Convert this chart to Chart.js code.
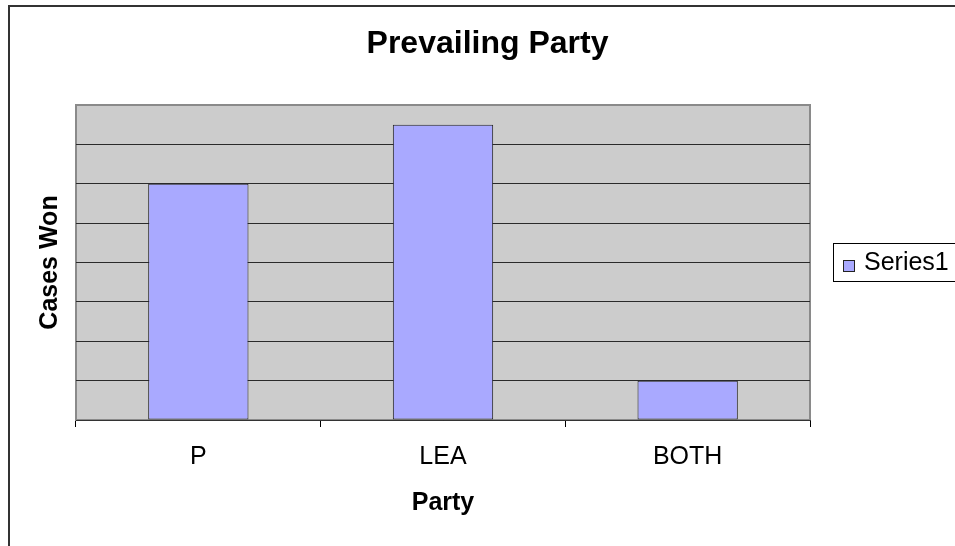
<!DOCTYPE html>
<html>
<head>
<meta charset="utf-8">
<title>Prevailing Party</title>
<script src="https://cdn.jsdelivr.net/npm/chart.js"></script>
<style>
    html, body { margin: 0; padding: 0; background: #fff; overflow: hidden; }
    #wrap { position: relative; width: 955px; height: 546px; }
</style>
</head>
<body>
<div id="wrap"><canvas id="partyChart"></canvas></div>
<script>
// Cases won by each party
const parties = ['P', 'LEA', 'BOTH'];
const casesWon = [6, 7.5, 1];
const seriesName = 'Series1';
const yMax = 8;

const FONT = '"Liberation Sans", Arial, sans-serif';
const barFill = '#a9a9ff';
const barEdge = '#222';

// gray plot background, plot frame and the outer chart frame
const plotBackground = {
    id: 'plotBackground',
    beforeDraw(chart) {
        const { ctx, chartArea: a } = chart;
        ctx.save();
        ctx.strokeStyle = '#888';
        ctx.lineWidth = 1;
        ctx.beginPath();
        ctx.moveTo(8.5, 5.5);
        ctx.lineTo(2000, 5.5);
        ctx.stroke();
        ctx.strokeStyle = '#333';
        ctx.lineWidth = 2;
        ctx.beginPath();
        ctx.moveTo(9, 2000);
        ctx.lineTo(9, 6);
        ctx.lineTo(2000, 6);
        ctx.stroke();

        ctx.fillStyle = '#cccccc';
        ctx.fillRect(a.left, a.top, a.right - a.left, a.bottom - a.top);
        ctx.strokeStyle = '#8a8a8a';
        ctx.lineWidth = 2;
        ctx.strokeRect(a.left, a.top, a.right - a.left, a.bottom - a.top);
        ctx.restore();
    }
};

// boxed legend to the right of the plot
const boxLegend = {
    id: 'boxLegend',
    afterDraw(chart) {
        const { ctx } = chart;
        const ds = chart.data.datasets[0];
        ctx.save();
        ctx.fillStyle = '#fff';
        ctx.fillRect(833.5, 243.5, 200, 38);
        ctx.strokeStyle = '#000';
        ctx.lineWidth = 1;
        ctx.strokeRect(833.5, 243.5, 200, 38);
        ctx.fillStyle = ds.backgroundColor;
        ctx.fillRect(843.5, 260.5, 11, 11);
        ctx.strokeStyle = ds.borderColor;
        ctx.strokeRect(843.5, 260.5, 11, 11);
        ctx.fillStyle = '#000';
        ctx.font = '25px ' + FONT;
        ctx.textBaseline = 'middle';
        ctx.fillText(ds.label, 864, 263);
        ctx.restore();
    }
};

new Chart(document.getElementById('partyChart'), {
    type: 'bar',
    data: {
        labels: parties,
        datasets: [{
            label: seriesName,
            data: casesWon,
            backgroundColor: barFill,
            borderColor: barEdge,
            borderWidth: 1,
            borderSkipped: false,
            barPercentage: 0.41,
            categoryPercentage: 1
        }]
    },
    options: {
        responsive: true,
        maintainAspectRatio: false,
        animation: false,
        layout: { padding: { left: 20, right: 0, top: 0, bottom: 0 } },
        plugins: {
            legend: { display: false },
            tooltip: { enabled: false },
            title: {
                display: true,
                text: 'Prevailing Party',
                color: '#000',
                font: { family: FONT, size: 32, weight: 'bold', lineHeight: 1.2 },
                padding: { top: 24.8, bottom: 41.8 }
            }
        },
        scales: {
            x: {
                afterFit(scale) { scale.height = 126; },
                grid: {
                    display: true,
                    drawOnChartArea: false,
                    drawTicks: true,
                    tickLength: 7,
                    color: '#000'
                },
                border: { display: true, color: '#333' },
                ticks: {
                    color: '#000',
                    padding: 15,
                    font: { family: FONT, size: 25, lineHeight: 1.2 }
                },
                title: {
                    display: true,
                    text: 'Party',
                    color: '#000',
                    font: { family: FONT, size: 25, weight: 'bold', lineHeight: 1.2 },
                    padding: { top: 0, bottom: 28 }
                }
            },
            y: {
                min: 0,
                max: yMax,
                afterFit(scale) { scale.width = 56; },
                ticks: { display: false, stepSize: 1 },
                grid: {
                    drawTicks: false,
                    color: (c) => c.tick && c.tick.value === yMax ? '#8a8a8a' : '#2a2a2a'
                },
                border: { display: false },
                title: {
                    display: true,
                    text: 'Cases Won',
                    color: '#000',
                    font: { family: FONT, size: 25, weight: 'bold', lineHeight: 1.2 },
                    padding: { top: 15, bottom: 0 }
                }
            },
            // empty right-hand space that holds the legend
            legendSpace: {
                position: 'right',
                afterFit(scale) { scale.width = 145; },
                grid: { display: false },
                ticks: { display: false },
                border: { display: false }
            }
        }
    },
    plugins: [plotBackground, boxLegend]
});
</script>
</body>
</html>
